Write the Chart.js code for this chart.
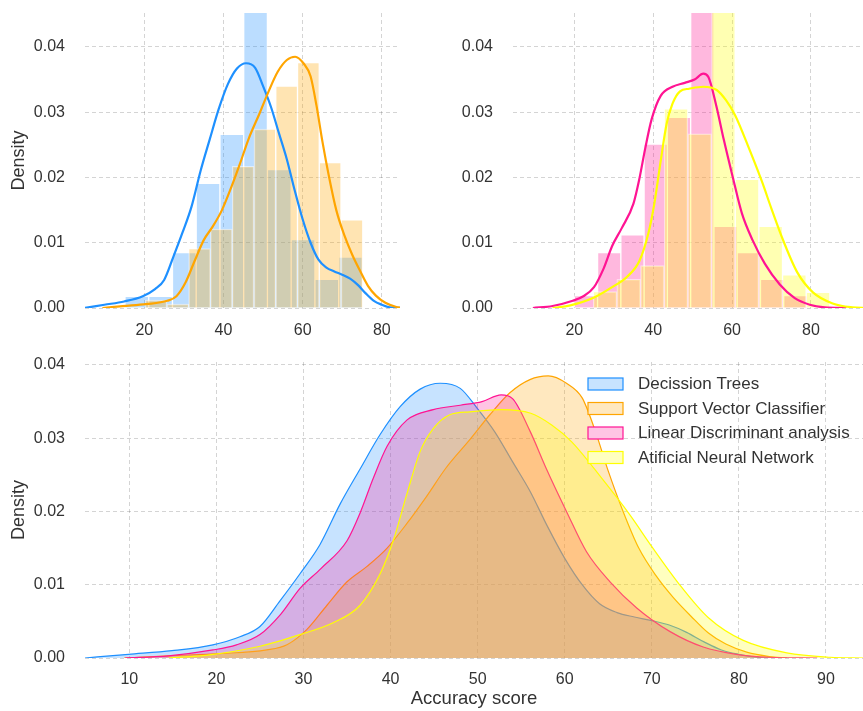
<!DOCTYPE html>
<html>
<head>
<meta charset="utf-8">
<title>Accuracy score densities</title>
<script src="https://cdn.jsdelivr.net/npm/chart.js@4.4.0/dist/chart.umd.min.js"></script>
<style>
    html, body { margin: 0; padding: 0; background: #ffffff; }
    #wrap { position: relative; width: 863px; height: 711px; overflow: hidden; }
    canvas { position: absolute; display: block; }
</style>
</head>
<body>
<div id="wrap">
    <canvas id="topLeftChart" width="410" height="345" style="left:0;top:0"></canvas>
    <canvas id="topRightChart" width="433" height="345" style="left:430px;top:0"></canvas>
    <canvas id="bottomChart" width="863" height="366" style="left:0;top:345px"></canvas>
</div>
<script>
// Model names (legend order)
const modelNames = ["Decission Trees", "Support Vector Classifier", "Linear Discriminant analysis", "Atificial Neural Network"];

// Histogram bins: bin centres and density per bin
const dtBinCenters = [18.1, 24.1, 30.1, 36.1, 42.1, 48.1, 54.1, 60.1, 66.1, 72.1];
const dtBinDensity = [0.0018, 0.0018, 0.0085, 0.0191, 0.0266, 0.065, 0.0212, 0.0105, 0.0044, 0.0078];
const svcBinCenters = [22.95, 28.45, 33.95, 39.45, 44.95, 50.45, 55.95, 61.45, 66.95, 72.45];
const svcBinDensity = [0.0012, 0.0006, 0.0091, 0.0121, 0.0217, 0.0274, 0.034, 0.0376, 0.0223, 0.0135];
const ldaBinCenters = [22.95, 28.85, 34.75, 40.65, 46.55, 52.45, 58.35, 64.25, 70.15, 76.05];
const ldaBinDensity = [0.0019, 0.0085, 0.0112, 0.0251, 0.0292, 0.0666, 0.0125, 0.0085, 0.0044, 0.0019];
const annBinCenters = [27.8, 33.8, 39.8, 45.8, 51.8, 57.8, 63.8, 69.8, 75.8, 81.8];
const annBinDensity = [0.0025, 0.0044, 0.0065, 0.0305, 0.0267, 0.0564, 0.0197, 0.0125, 0.0051, 0.0024];

// KDE curves (accuracy score, density)
const dtKdeX = [4.9, 9.9, 14.9, 19.6, 22.7, 25.0, 27.3, 29.6, 31.9, 34.2, 36.5, 38.8, 41.1, 43.4, 45.7, 48.0, 50.0, 52.0, 54.0, 56.0, 58.0, 60.0, 62.0, 64.0, 66.0, 68.0, 70.0, 72.0, 74.0, 76.0, 78.0, 80.0, 82.0, 85.5];
const dtKdeY = [0, 0.0005, 0.001, 0.0018, 0.0029, 0.0043, 0.0078, 0.0115, 0.0155, 0.021, 0.0258, 0.0305, 0.0343, 0.0367, 0.0375, 0.0368, 0.034, 0.0308, 0.0268, 0.0228, 0.018, 0.0136, 0.01, 0.0074, 0.0062, 0.0056, 0.0051, 0.0045, 0.0035, 0.0022, 0.0011, 0.0005, 0.0001, 0];
const svcKdeX = [9.4, 14.5, 20.4, 25.8, 28.1, 30.4, 32.7, 35.0, 37.3, 39.6, 41.9, 44.1, 46.4, 49.1, 51.4, 53.7, 56.0, 58.1, 60.2, 62.0, 63.5, 65.0, 66.7, 68.5, 70.5, 72.5, 74.5, 76.5, 78.5, 80.9, 83.5, 85.5];
const svcKdeY = [0, 0.0003, 0.0006, 0.0011, 0.0018, 0.0039, 0.0072, 0.0104, 0.0125, 0.015, 0.0184, 0.022, 0.026, 0.0298, 0.0332, 0.0362, 0.038, 0.0385, 0.0375, 0.0355, 0.031, 0.0255, 0.02, 0.015, 0.0112, 0.0082, 0.0057, 0.0034, 0.0019, 0.0008, 0.0002, 0];
const ldaKdeX = [9.5, 14.5, 19.6, 22.3, 25.0, 27.4, 29.6, 32.0, 35.0, 36.5, 38.0, 39.6, 41.9, 44.9, 48.0, 50.5, 52.7, 54.0, 56.0, 57.9, 60.2, 62.5, 65.2, 68.3, 72.1, 75.9, 79.7, 83.5, 89.0];
const ldaKdeY = [0, 0.0003, 0.0011, 0.0018, 0.0032, 0.006, 0.0095, 0.0122, 0.016, 0.0198, 0.0245, 0.0289, 0.0325, 0.0339, 0.0345, 0.035, 0.0359, 0.0354, 0.031, 0.0258, 0.02, 0.0145, 0.0104, 0.0068, 0.0036, 0.0015, 0.0005, 0.0001, 0];
const annKdeX = [14.5, 19.0, 25.0, 29.6, 33.4, 36.5, 38.8, 40.3, 41.9, 43.4, 44.9, 46.8, 49.1, 52.7, 56.1, 58.5, 60.8, 64.4, 67.5, 70.0, 73.0, 76.5, 80.5, 85.5, 90.5, 94.3];
const annKdeY = [0, 0.0004, 0.0016, 0.0032, 0.0048, 0.0072, 0.0115, 0.016, 0.0225, 0.0282, 0.0313, 0.0332, 0.0336, 0.0339, 0.0334, 0.0318, 0.0295, 0.0243, 0.0195, 0.0152, 0.0103, 0.0055, 0.0024, 0.0007, 0.0001, 0];

// Axis ticks
const densityTicks = [0, 0.01, 0.02, 0.03, 0.04];
const topScoreStep = 20;
const bottomScoreStep = 10;

const colors = {
    dt: [30, 144, 255],
    svc: [255, 165, 0],
    lda: [255, 20, 147],
    ann: [255, 255, 0]
};
const rgba = (c, a) => `rgba(${c[0]},${c[1]},${c[2]},${a})`;
const fontFamily = '"Liberation Sans", Arial, sans-serif';
const textColor = "#333333";
const gridColor = "rgba(0,0,0,0.17)";

const toPoints = (xs, ys) => xs.map((x, i) => ({ x: x, y: ys[i] }));

// Invisible tick marks are used as spacing so the layout does not
// reserve extra room for large label paddings.
function scoreAxis(min, max, step, shown, gap, height) {
    return {
        type: "linear",
        min: min,
        max: max,
        display: shown,
        offset: false,
        grid: {
            display: shown, color: gridColor, lineWidth: 1,
            drawTicks: true, tickLength: (gap || 3) - 2, tickColor: "rgba(0,0,0,0)"
        },
        border: { display: false, dash: [4, 3] },
        ticks: {
            stepSize: step, includeBounds: false, padding: 2, autoSkip: false, maxRotation: 0,
            color: textColor, font: { family: fontFamily, size: 16 }
        },
        afterFit: (scale) => { if (shown) scale.height = height; }
    };
}

function densityAxis(max, width, withTitle) {
    return {
        type: "linear",
        min: 0,
        max: max,
        grid: { color: gridColor, lineWidth: 1, drawTicks: true, tickLength: 17, tickColor: "rgba(0,0,0,0)" },
        border: { display: false, dash: [4, 3] },
        ticks: {
            stepSize: 0.01, includeBounds: false, padding: 3,
            color: textColor, font: { family: fontFamily, size: 16 },
            callback: (v) => densityTicks.includes(Math.round(v * 100) / 100) ? v.toFixed(2) : ""
        },
        title: {
            display: withTitle, text: "Density", color: textColor,
            font: { family: fontFamily, size: 18 }, padding: { top: 8, bottom: 0 }
        },
        afterFit: (scale) => { scale.width = width; }
    };
}

function histDataset(centers, density, color, axisId, order) {
    return {
        type: "bar",
        data: toPoints(centers, density),
        xAxisID: axisId,
        backgroundColor: rgba(color, 0.3),
        borderColor: "rgba(255,255,255,0.5)",
        borderWidth: 1,
        barPercentage: 1,
        categoryPercentage: 1,
        grouped: false,
        clip: 0,
        order: order
    };
}

function kdeLine(xs, ys, color, order) {
    return {
        type: "line",
        data: toPoints(xs, ys),
        borderColor: rgba(color, 1),
        borderWidth: 2.2,
        pointRadius: 0,
        cubicInterpolationMode: "monotone",
        fill: false,
        order: order
    };
}

const baseOptions = {
    responsive: false,
    animation: false,
    events: [],
    plugins: { legend: { display: false }, tooltip: { enabled: false } }
};

// Top left: Decision Trees and Support Vector Classifier
new Chart(document.getElementById("topLeftChart"), {
    type: "line",
    data: {
        datasets: [
            histDataset(dtBinCenters, dtBinDensity, colors.dt, "xDt", 4),
            histDataset(svcBinCenters, svcBinDensity, colors.svc, "xSvc", 3),
            kdeLine(dtKdeX, dtKdeY, colors.dt, 2),
            kdeLine(svcKdeX, svcKdeY, colors.svc, 1)
        ]
    },
    options: Object.assign({}, baseOptions, {
        layout: { padding: { top: 13, right: 10, left: 0, bottom: 0 } },
        scales: {
            x: scoreAxis(5.0, 84.6, topScoreStep, true, 13, 37),
            xDt: scoreAxis(5.0, 84.6, topScoreStep, false),
            xSvc: scoreAxis(5.0, 84.6, topScoreStep, false),
            y: densityAxis(0.0452, 85, true)
        }
    })
});

// Top right: Linear Discriminant analysis and Neural Network
new Chart(document.getElementById("topRightChart"), {
    type: "line",
    data: {
        datasets: [
            histDataset(ldaBinCenters, ldaBinDensity, colors.lda, "xLda", 4),
            histDataset(annBinCenters, annBinDensity, colors.ann, "xAnn", 3),
            kdeLine(ldaKdeX, ldaKdeY, colors.lda, 2),
            kdeLine(annKdeX, annKdeY, colors.ann, 1)
        ]
    },
    options: Object.assign({}, baseOptions, {
        layout: { padding: { top: 13, right: 0, left: 0, bottom: 0 } },
        scales: {
            x: scoreAxis(4.46, 93.2, topScoreStep, true, 13, 37),
            xLda: scoreAxis(4.46, 93.2, topScoreStep, false),
            xAnn: scoreAxis(4.46, 93.2, topScoreStep, false),
            y: densityAxis(0.0452, 83, false)
        }
    })
});

// Legend drawn in the upper right corner of the plot area
const cornerLegend = {
    id: "cornerLegend",
    afterDraw(chart, args, opts) {
        const ctx = chart.ctx;
        const area = chart.chartArea;
        const left = area.right - 275;
        ctx.save();
        ctx.font = "17px " + fontFamily;
        ctx.textBaseline = "middle";
        ctx.textAlign = "left";
        opts.labels.forEach((label, i) => {
            const top = area.top + 16 + i * 24.5;
            ctx.fillStyle = "#ffffff";
            ctx.fillRect(left, top, 35, 12);
            ctx.fillStyle = rgba(opts.colors[i], 0.25);
            ctx.fillRect(left, top, 35, 12);
            ctx.strokeStyle = rgba(opts.colors[i], 1);
            ctx.lineWidth = 1.2;
            ctx.strokeRect(left, top, 35, 12);
            ctx.fillStyle = textColor;
            ctx.fillText(label, left + 50, top + 6.5);
        });
        ctx.restore();
    }
};

function kdeArea(xs, ys, color, order) {
    return {
        data: toPoints(xs, ys),
        borderColor: rgba(color, 1),
        backgroundColor: rgba(color, 0.25),
        borderWidth: 1.2,
        pointRadius: 0,
        cubicInterpolationMode: "monotone",
        fill: "origin",
        order: order
    };
}

// Bottom: all four density curves
new Chart(document.getElementById("bottomChart"), {
    type: "line",
    data: {
        datasets: [
            kdeArea(dtKdeX, dtKdeY, colors.dt, 3),
            kdeArea(svcKdeX, svcKdeY, colors.svc, 2),
            kdeArea(ldaKdeX, ldaKdeY, colors.lda, 1),
            kdeArea(annKdeX, annKdeY, colors.ann, 0)
        ]
    },
    options: Object.assign({}, baseOptions, {
        layout: { padding: { top: 17, right: 0, left: 0, bottom: 0 } },
        plugins: {
            legend: { display: false },
            tooltip: { enabled: false },
            cornerLegend: { labels: modelNames, colors: [colors.dt, colors.svc, colors.lda, colors.ann] }
        },
        scales: {
            x: Object.assign(scoreAxis(4.91, 94.25, bottomScoreStep, true, 12, 53), {
                title: {
                    display: true, text: "Accuracy score", color: textColor,
                    font: { family: fontFamily, size: 18.5 }, padding: { top: 0, bottom: 1 }
                }
            }),
            y: densityAxis(0.0404, 85, true)
        }
    }),
    plugins: [cornerLegend]
});
</script>
</body>
</html>
